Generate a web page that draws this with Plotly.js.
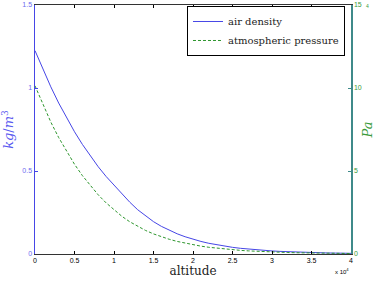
<!DOCTYPE html>
<html><head><meta charset="utf-8">
<script src="https://cdn.plot.ly/plotly-3.0.1.min.js"></script>
<style>html,body{margin:0;padding:0;background:#fff}#c{width:375px;height:281px}</style>
</head><body><div id="c"></div>
<script>
// altitude in metres
var altitude = [0,1000,2000,3000,4000,5000,6000,7000,8000,9000,10000,11000,12000,13000,14000,15000,16000,17000,18000,19000,20000,21000,22000,23000,24000,25000,26000,27000,28000,29000,30000,31000,32000,33000,34000,35000,36000,37000,38000,39000,40000];
// air density kg/m^3
var airDensity = [1.225,1.112,1.007,0.9093,0.8194,0.7364,0.6601,0.5900,0.5258,0.4671,0.4135,0.3648,0.3119,0.2666,0.2279,0.1948,0.1665,0.1423,0.1217,0.1040,0.0889,0.0757,0.0645,0.0550,0.0469,0.0401,0.0343,0.0293,0.0251,0.0215,0.0184,0.0158,0.0136,0.0116,0.0099,0.0085,0.0073,0.0062,0.0054,0.0046,0.0040];
// atmospheric pressure Pa
var pressure = [101325,89876,79501,70121,61660,54048,47217,41105,35651,30800,26500,22700,19399,16579,14170,12111,10352,8850,7565,6467,5529,4729,4047,3467,2972,2549,2188,1880,1616,1390,1197,1031,889,767,663,575,498,433,377,328,287];
var xTickVals = [0,5000,10000,15000,20000,25000,30000,35000,40000];
var xTickText = ['0','0.5','1','1.5','2','2.5','3','3.5','4'];
var y2TickVals = [0,50000,100000,150000];
var y2TickText = ['0','5','10','15'];

var blue = '#4646e6', green = '#2e962e', teal = '#3f8a8a';
var tickFont = {family:'Liberation Sans, Arial, sans-serif', size:7};
var serif = 'DejaVu Serif';

var traces = [
  {x: altitude, y: airDensity, type:'scatter', mode:'lines', name:'air density',
   line:{color:blue, width:1}, yaxis:'y'},
  {x: altitude, y: pressure, type:'scatter', mode:'lines', name:'atmospheric pressure',
   line:{color:green, width:1, dash:'3px,2px'}, yaxis:'y2'}
];

var layout = {
  width:375, height:281,
  margin:{l:35, r:24, t:5, b:27},
  paper_bgcolor:'#fff', plot_bgcolor:'#fff',
  showlegend:true,
  legend:{x:0.981, y:0.996, xanchor:'right', yanchor:'top', bgcolor:'#fff',
    bordercolor:'#000', borderwidth:1, font:{family:serif, size:10, color:'#222'},
    tracegroupgap:0, itemwidth:30},
  xaxis:{range:[0,40000], tickvals:xTickVals, ticktext:xTickText, ticks:'inside', ticklen:3,
    tickcolor:'#000', showline:true, linecolor:'#333', linewidth:1, mirror:'ticks',
    showgrid:false, zeroline:false, tickfont:Object.assign({color:'#000'}, tickFont),
    title:{text:'altitude', font:{family:serif, size:12, color:'#222'}, standoff:2}},
  yaxis:{range:[0,1.5], tickvals:[0,0.5,1,1.5], ticktext:['0','0.5','1','1.5'], ticks:'inside', ticklen:3,
    tickcolor:blue, showline:true, linecolor:blue, linewidth:1.5, showgrid:false, zeroline:false,
    tickfont:Object.assign({color:'#6b6bf0'}, tickFont),
    title:{text:'<i>kg</i>/<i>m</i><sup>3</sup>', font:{family:serif, size:13, color:'#5a5af0'}, standoff:8}},
  yaxis2:{range:[0,150000], overlaying:'y', side:'right', tickvals:y2TickVals, ticktext:y2TickText,
    ticks:'inside', ticklen:3, tickcolor:teal, showline:true, linecolor:teal, linewidth:1.5,
    showgrid:false, zeroline:false, tickfont:Object.assign({color:'#3a9a3a'}, tickFont),
    title:{text:'<i>Pa</i>', font:{family:serif, size:13, color:'#3a9a3a'}, standoff:8}},
  annotations:[
    {text:'x 10<sup>4</sup>', xref:'paper', yref:'paper', x:1.0, y:-0.045, xanchor:'right', yanchor:'top',
     showarrow:false, font:{family:'Liberation Sans, Arial, sans-serif', size:6, color:'#000'}},
    {text:'4', xref:'paper', yref:'paper', x:1.04, y:1.016, xanchor:'left', yanchor:'top',
     showarrow:false, font:{family:'Liberation Sans, Arial, sans-serif', size:5, color:'#3a9a3a'}}
  ]
};
Plotly.newPlot('c', traces, layout, {displayModeBar:false, staticPlot:true});
</script></body></html>
